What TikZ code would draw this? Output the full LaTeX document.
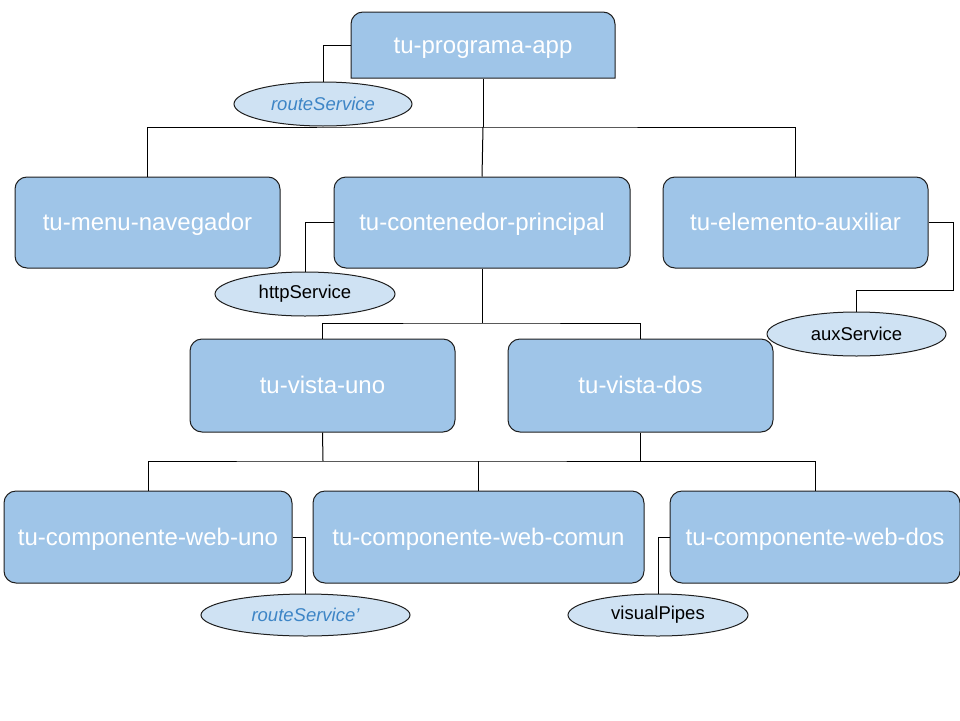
\documentclass[tikz,border=0pt]{standalone}
\usepackage{fontspec}
\setmainfont{Liberation Sans}
\usepackage{tikz}
\usetikzlibrary{shapes.geometric}
\definecolor{BoxBlue}{HTML}{9FC5E8}
\definecolor{SrvBlue}{HTML}{CFE2F3}
\definecolor{SrvText}{HTML}{3D85C6}
\definecolor{Edge}{HTML}{1F1F1F}
\tikzset{
  compbox/.style={draw=Edge, fill=BoxBlue, rounded corners=12pt, line width=1pt,
    text=white, inner sep=0pt, text height=18.5pt, text depth=2pt,
    font=\fontsize{24}{28}\selectfont},
  service/.style={draw=Edge, fill=SrvBlue, ellipse, line width=1pt, inner sep=0pt,
    font=\fontsize{18.5}{22}\selectfont},
  injected/.style={service, text=SrvText, font=\fontsize{18.5}{22}\selectfont\itshape},
  wire/.style={draw=black, line width=1pt}
}
\begin{document}
\begin{tikzpicture}[x=1pt, y=-1pt]
  \useasboundingbox (0,0) rectangle (960,720);
  % root box: round on top, square below
  \draw[draw=Edge, fill=BoxBlue, line width=1pt]
    (351,78) [rounded corners=12pt] -- (351,12) -- (615,12) [sharp corners] -- (615,78) -- cycle;
  % components
  \node[compbox, draw=none, fill=none, minimum width=264pt, minimum height=66pt] (app) at (483,45) {tu-programa-app};
  \node[compbox, minimum width=265pt, minimum height=91pt] (menu) at (147.5,222.5) {tu-menu-navegador};
  \node[compbox, minimum width=296pt, minimum height=91pt] (cont) at (482,222.5) {tu-contenedor-principal};
  \node[compbox, minimum width=265pt, minimum height=91pt] (aux) at (795.5,222.5) {tu-elemento-auxiliar};
  \node[compbox, minimum width=265pt, minimum height=93pt] (vuno) at (322.5,385.5) {tu-vista-uno};
  \node[compbox, minimum width=265pt, minimum height=93pt] (vdos) at (640.5,385.5) {tu-vista-dos};
  \node[compbox, minimum width=288pt, minimum height=92pt] (wuno) at (148,537) {tu-componente-web-uno};
  \node[compbox, minimum width=331pt, minimum height=92pt] (wcomun) at (478.5,537) {tu-componente-web-comun};
  \node[compbox, minimum width=290pt, minimum height=92pt] (wdos) at (815,537) {tu-componente-web-dos};
  % services
  \node[injected, minimum width=178pt, minimum height=44pt] (srvroute) at (323,104) {routeService};
  \node[service, minimum width=180pt, minimum height=44pt] (srvhttp) at (305,294) {httpService};
  \node[service, minimum width=179pt, minimum height=44pt] (srvaux) at (856.5,334) {auxService};
  \node[injected, minimum width=209pt, minimum height=42pt] (srvroute2) at (305.5,615) {routeService'};
  \node[service, minimum width=180pt, minimum height=42pt] (pipes) at (658,615) {visualPipes};
  % tree wires
  \coordinate (bus1) at (483,127);
  \coordinate (bus2) at (482,323);
  \coordinate (bus3) at (323,461);
  \coordinate (bus3r) at (815,461);
  \draw[wire] (app.south) -- (bus1);
  \draw[wire] (menu.north) |- (bus1) -| (aux.north);
  \draw[wire] (bus1) -- (cont.north);
  \draw[wire] (cont.south) -- (bus2);
  \draw[wire] (vuno.north) |- (bus2) -| (vdos.north);
  \draw[wire] (vuno.south) -- (bus3);
  \draw[wire] (wuno.north) |- (bus3) -- (bus3r) -- (wdos.north);
  \draw[wire] (vdos.south) -- (vdos.south |- bus3);
  \draw[wire] (wcomun.north) -- (wcomun.north |- bus3);
  % service wires
  \draw[wire] (app.west) -| (srvroute.north);
  \draw[wire] (cont.west) -| (srvhttp.north);
  \draw[wire] (aux.east) -| ++(25,68) -| (srvaux.north);
  \draw[wire] (wuno.east) -| (srvroute2.north);
  \draw[wire] (wdos.west) -| (pipes.north);
\end{tikzpicture}
\end{document}
